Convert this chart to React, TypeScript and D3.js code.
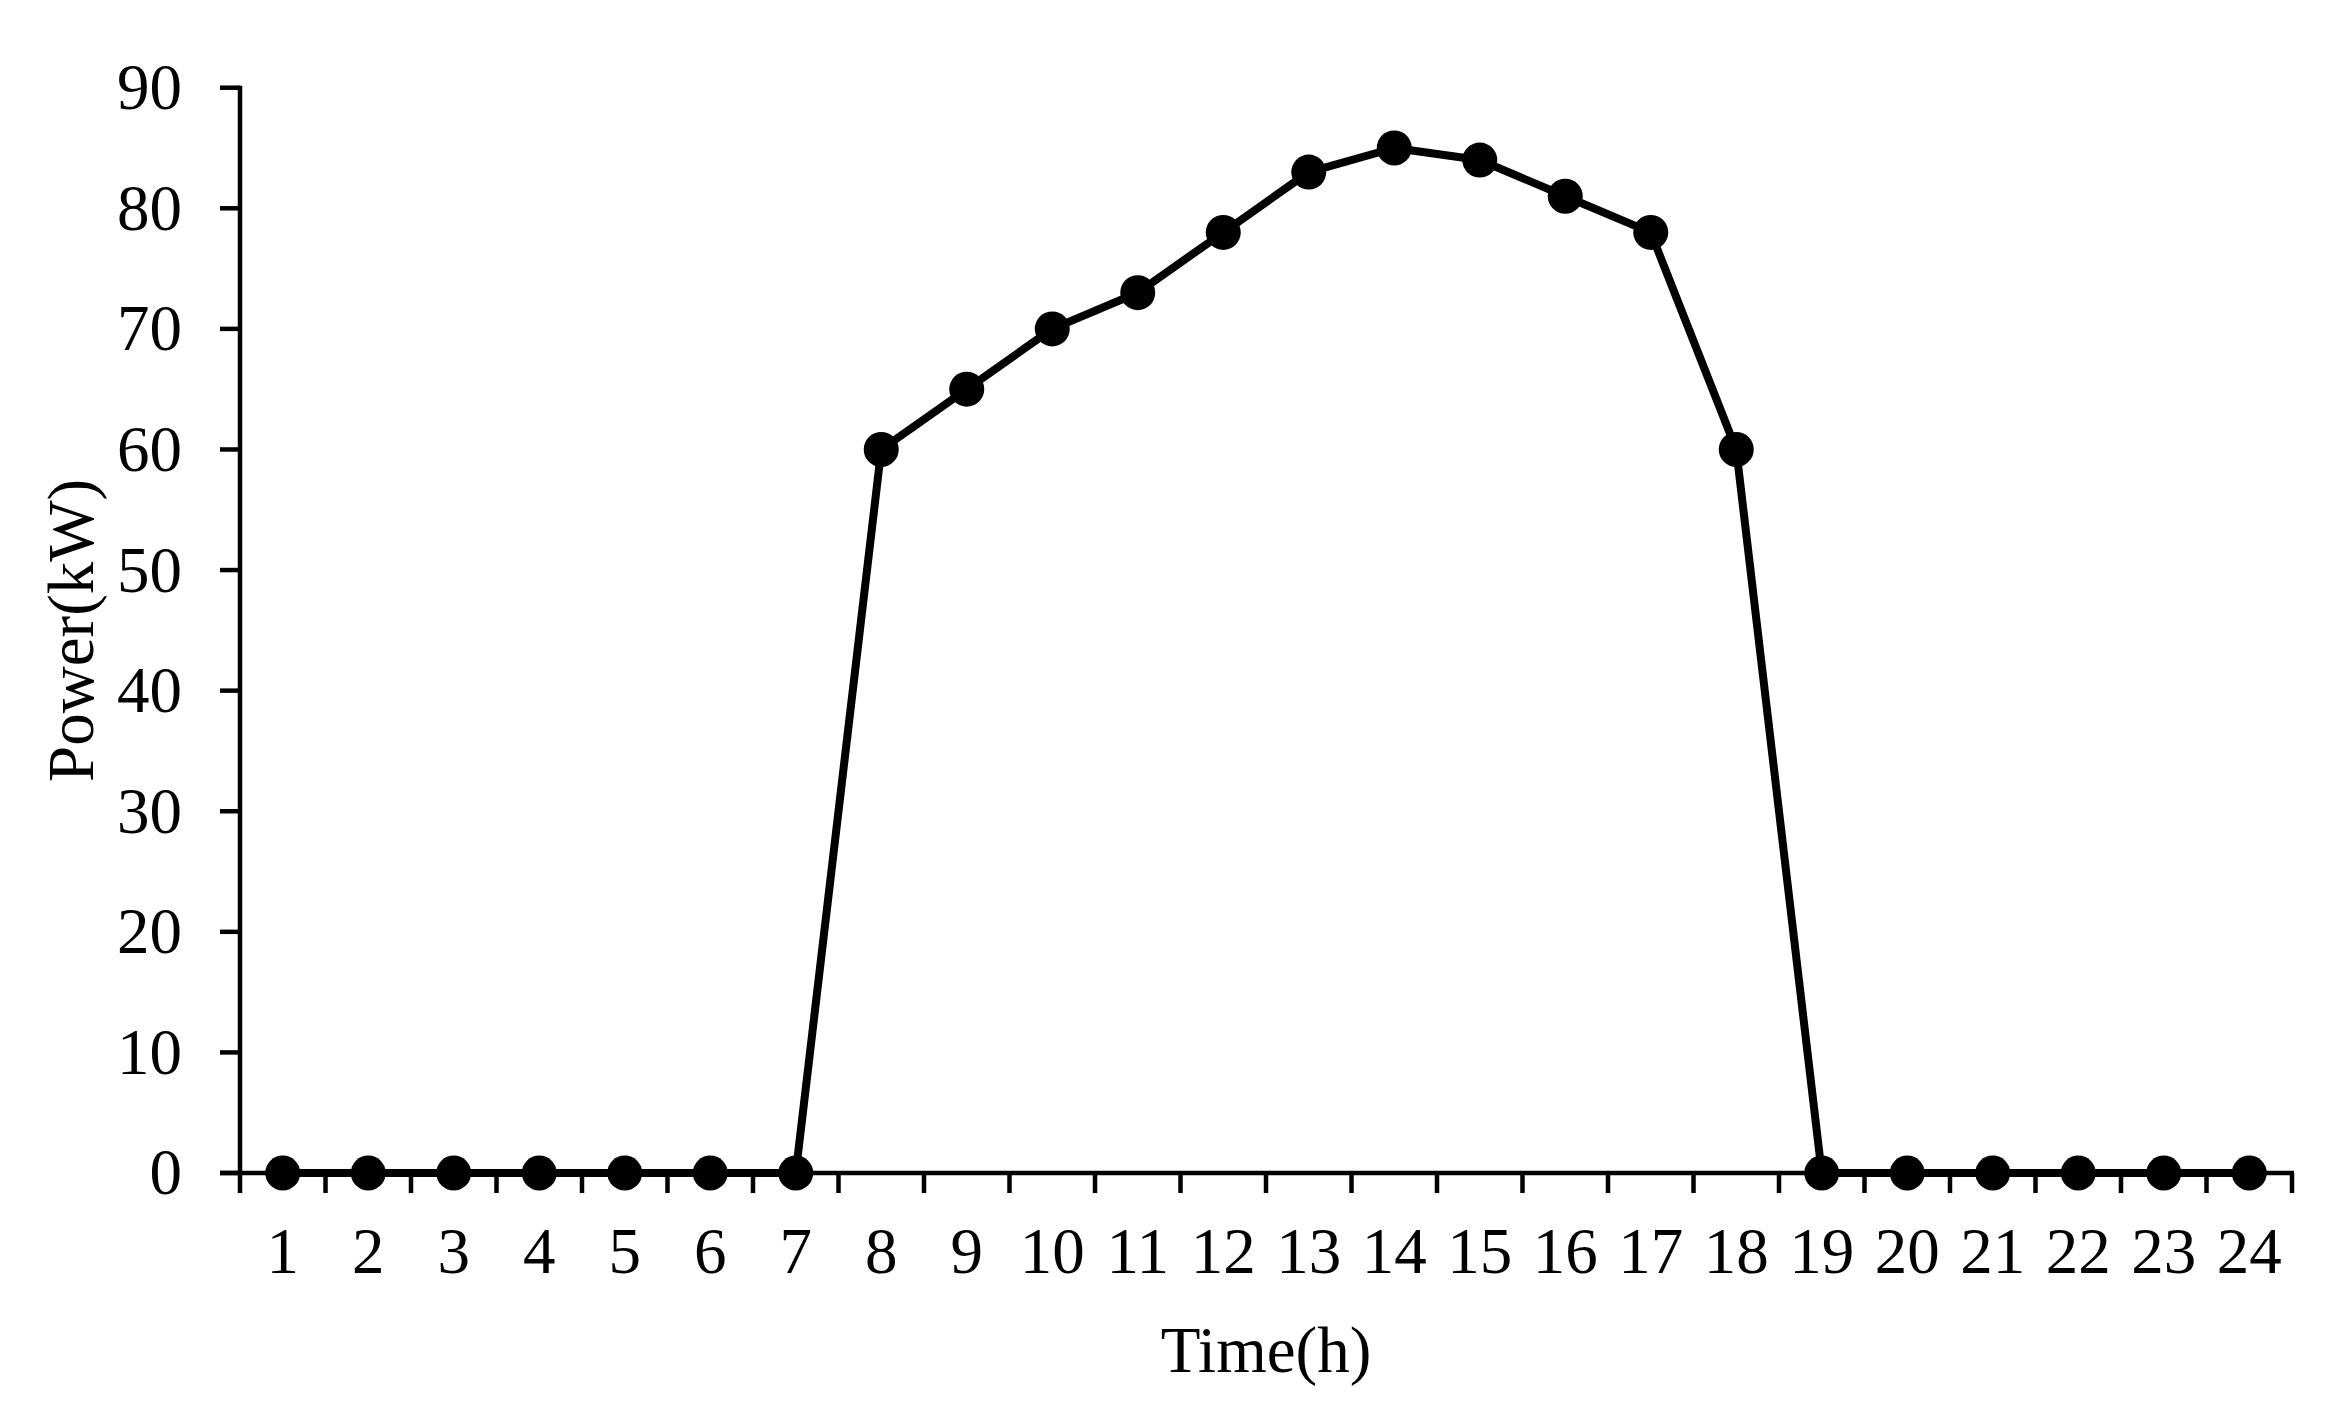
import React from "react";
import * as d3 from "d3";

const hours = d3.range(1, 25).map(String);
const power = [0, 0, 0, 0, 0, 0, 0, 60, 65, 70, 73, 78, 83, 85, 84, 81, 78, 60, 0, 0, 0, 0, 0, 0];
const yTicks = [0, 10, 20, 30, 40, 50, 60, 70, 80, 90];

const W = 2332;
const H = 1407;
const left = 240;
const right = 2292;
const top = 87.7;
const bottom = 1173;
const font = "'Liberation Serif', 'Times New Roman', serif";
const fs = 65;

function App() {
  const x = d3.scaleBand().domain(hours).range([left, right]).padding(0);
  const y = d3.scaleLinear().domain([0, 90]).range([bottom, top]);
  const cx = (h: string) => (x(h) as number) + x.bandwidth() / 2;

  const line = d3
    .line<number>()
    .x((d, i) => cx(hours[i]))
    .y((d) => y(d));

  const boundaries = hours.map((h) => x(h) as number).concat([right]);

  return (
    <svg
      width={W}
      height={H}
      style={{ position: "absolute", left: 0, top: 0, background: "#fff" }}
      fontFamily={font}
    >
      {/* y axis */}
      <line x1={left} x2={left} y1={top - 2} y2={bottom} stroke="#000" strokeWidth={4.5} />
      {yTicks.map((t) => (
        <g key={t}>
          <line x1={left - 20} x2={left} y1={y(t)} y2={y(t)} stroke="#000" strokeWidth={4.5} />
          <text x={182} y={y(t)} dy="0.33em" textAnchor="end" fontSize={fs}>
            {t}
          </text>
        </g>
      ))}
      {/* x axis */}
      <line x1={left - 20} x2={right + 2} y1={bottom} y2={bottom} stroke="#000" strokeWidth={4.5} />
      {boundaries.map((b, i) => (
        <line key={i} x1={b} x2={b} y1={bottom} y2={bottom + 20} stroke="#000" strokeWidth={4.5} />
      ))}
      {hours.map((h) => (
        <text key={h} x={cx(h)} y={1273} textAnchor="middle" fontSize={fs}>
          {h}
        </text>
      ))}
      {/* series */}
      <path d={line(power) as string} fill="none" stroke="#000" strokeWidth={8} strokeLinejoin="round" />
      {power.map((v, i) => (
        <circle key={i} cx={cx(hours[i])} cy={y(v)} r={17.5} fill="#000" />
      ))}
      {/* titles */}
      <text x={1266} y={1372} textAnchor="middle" fontSize={fs}>
        Time(h)
      </text>
      <text
        transform={`translate(93, ${(top + bottom) / 2}) rotate(-90)`}
        textAnchor="middle"
        fontSize={fs}
      >
        Power(kW)
      </text>
    </svg>
  );
}

export default App;
